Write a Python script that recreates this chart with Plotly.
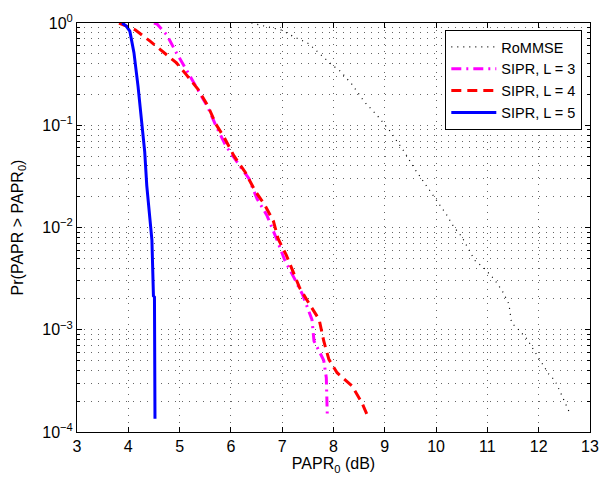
import plotly.graph_objects as go

# RoMMSE
rommse_x = [6.40, 6.57, 6.73, 6.98, 7.21, 7.37, 7.50, 7.59, 7.78, 7.97, 8.13, 8.36, 8.60, 8.85,
            9.09, 9.38, 9.60, 9.76, 9.89, 10.05, 10.21, 10.34, 10.50, 10.62, 10.75, 10.94, 11.14,
            11.29, 11.42, 11.47, 11.61, 11.77, 11.90, 12.03, 12.19, 12.32, 12.44, 12.54, 12.60]
rommse_y = [1.0, 0.955, 0.923, 0.855, 0.741, 0.684, 0.635, 0.581, 0.479, 0.389, 0.339, 0.251, 0.17, 0.125,
            0.0891, 0.055, 0.0363, 0.0278, 0.0224, 0.017, 0.0132, 0.0102, 0.00813, 0.00631, 0.00479, 0.00398, 0.00309,
            0.0024, 0.00178, 0.00117, 0.001, 0.000813, 0.000646, 0.000501, 0.000372, 0.000316, 0.000234, 0.000182, 0.000155]

# SIPR, L = 3
l3_x = [4.50, 4.56, 4.75, 4.94, 5.13, 5.36, 5.55, 5.71, 5.90, 6.12, 6.35, 6.51, 6.70, 6.89, 7.05,
        7.24, 7.40, 7.58, 7.62, 7.81, 7.86, 7.88]
l3_y = [1.0, 0.977, 0.764, 0.508, 0.35, 0.224, 0.15, 0.0984, 0.0631, 0.0437, 0.0302, 0.0191, 0.0132, 0.00776, 0.00479,
        0.00316, 0.00219, 0.00126, 0.000776, 0.000501, 0.000339, 0.000141]

# SIPR, L = 4
l4_x = [3.82, 4.14, 4.43, 4.69, 4.94, 5.13, 5.36, 5.55, 5.71, 5.87, 6.06, 6.28, 6.47, 6.66, 6.83,
        6.92, 7.08, 7.21, 7.34, 7.53, 7.72, 7.81, 7.91, 8.07, 8.36, 8.55, 8.68]
l4_y = [1.0, 0.855, 0.661, 0.513, 0.407, 0.313, 0.224, 0.155, 0.102, 0.0759, 0.0501, 0.0347, 0.0229, 0.0166, 0.0115,
        0.00776, 0.00537, 0.00372, 0.00257, 0.00178, 0.00126, 0.000776, 0.000513, 0.00038, 0.000282, 0.000195, 0.000138]

# SIPR, L = 5
l5_x = [3.88, 3.96, 4.03, 4.11, 4.19, 4.26, 4.32, 4.36, 4.40, 4.42, 4.44, 4.45, 4.46, 4.47, 4.48,
        4.49, 4.51, 4.51, 4.52]
l5_y = [1.0, 0.933, 0.832, 0.513, 0.24, 0.112, 0.055, 0.0257, 0.0151, 0.0135, 0.01, 0.00794, 0.00759, 0.00501, 0.0024,
        0.00214, 0.00209, 0.00126, 0.000135]

x_ticks = [3, 4, 5, 6, 7, 8, 9, 10, 11, 12, 13]
y_ticks = [1e-4, 1e-3, 1e-2, 1e-1, 1]
y_ticktext = ["10<sup>\u22124</sup>", "10<sup>\u22123</sup>", "10<sup>\u22122</sup>", "10<sup>\u22121</sup>", "10<sup>0</sup>"]
y_minor = [m * 10.0 ** e for e in (-4, -3, -2, -1) for m in range(2, 10)]

fig = go.Figure()
fig.add_trace(go.Scatter(x=rommse_x, y=rommse_y, mode="lines", name="RoMMSE",
                         line=dict(color="black", width=1.2, dash="1px,5px")))
fig.add_trace(go.Scatter(x=l3_x, y=l3_y, mode="lines", name="SIPR, L = 3",
                         line=dict(color="#ff00ff", width=3, dash="10px,5px,2px,5px")))
fig.add_trace(go.Scatter(x=l4_x, y=l4_y, mode="lines", name="SIPR, L = 4",
                         line=dict(color="#ff0000", width=3, dash="10px,6px")))
fig.add_trace(go.Scatter(x=l5_x, y=l5_y, mode="lines", name="SIPR, L = 5",
                         line=dict(color="#0000ff", width=3)))

font_family = "Liberation Sans, Arial, sans-serif"
grid_color = "rgba(0,0,0,0.6)"

fig.update_layout(
    width=610, height=480,
    margin=dict(l=77, r=11, t=23, b=45),
    paper_bgcolor="white", plot_bgcolor="white",
    font=dict(family=font_family, size=16, color="black"),
    showlegend=True,
    legend=dict(x=0.985, y=0.983, xanchor="right", yanchor="top",
                bgcolor="white", bordercolor="black", borderwidth=1,
                font=dict(size=14.5), tracegroupgap=0, itemwidth=45),
)
fig.update_xaxes(
    range=[3, 13], tickmode="array", tickvals=x_ticks,
    showline=True, linecolor="black", linewidth=1, mirror="ticks",
    ticks="inside", ticklen=5, tickcolor="black", tickfont=dict(size=16),
    showgrid=True, gridcolor=grid_color, griddash="1px,6px", gridwidth=1,
    zeroline=False,
    title=dict(text="PAPR<sub>0</sub> (dB)", standoff=3, font=dict(size=16)),
)
fig.update_yaxes(
    type="log", range=[-4, 0], tickmode="array", tickvals=y_ticks, ticktext=y_ticktext,
    showline=True, linecolor="black", linewidth=1, mirror="ticks",
    ticks="inside", ticklen=5, tickcolor="black", tickfont=dict(size=16),
    showgrid=True, gridcolor=grid_color, griddash="1px,6px", gridwidth=1,
    minor=dict(tickmode="array", tickvals=y_minor, ticks="inside", ticklen=3, tickcolor="black",
               showgrid=True, gridcolor=grid_color, griddash="1px,6px", gridwidth=1),
    zeroline=False,
    title=dict(text="Pr(PAPR > PAPR<sub>0</sub>)", standoff=14, font=dict(size=16)),
)

fig.write_html("out.html")
